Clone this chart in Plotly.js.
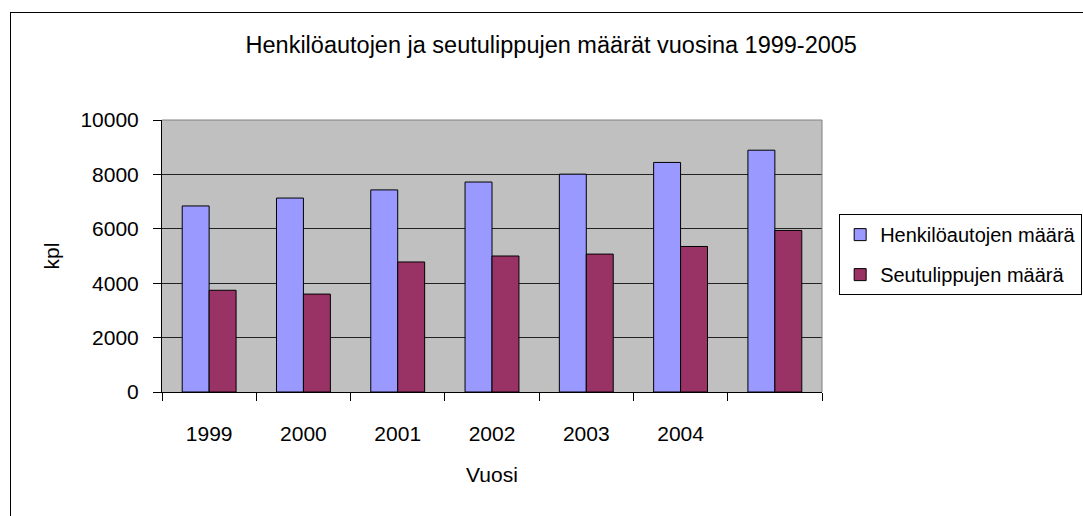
<!DOCTYPE html>
<html>
<head>
<meta charset="utf-8">
<script src="https://cdn.plot.ly/plotly-3.0.1.min.js"></script>
<style>
  html, body { margin: 0; padding: 0; background: #fff; }
  #wrap { position: relative; width: 1083px; height: 516px; overflow: hidden; }
  #chart { width: 1083px; height: 516px; }
  #frame { position: absolute; left: 10px; top: 12px; width: 1200px; height: 600px;
           border: 1px solid #000; pointer-events: none; box-sizing: border-box; }
</style>
</head>
<body>
<div id="wrap">
  <div id="chart"></div>
  <div id="frame"></div>
</div>
<script>
var years = ['1999', '2000', '2001', '2002', '2003', '2004', '2005'];
var yearLabels = ['1999', '2000', '2001', '2002', '2003', '2004', ''];
var henkiloautot = [6840, 7130, 7430, 7720, 8010, 8440, 8890];
var seutuliput = [3740, 3600, 4780, 5000, 5070, 5350, 5940];
var yTicks = [0, 2000, 4000, 6000, 8000, 10000];
var yTickLabels = ['0', '2000', '4000', '6000', '8000', '10000'];

var FONT = '"Liberation Sans", Arial, sans-serif';

var traces = [
  {
    type: 'bar', name: 'Henkilöautojen määrä', x: years, y: henkiloautot,
    marker: { color: '#9999FF', line: { color: '#000000', width: 1 } },
    legendgroup: 'a'
  },
  {
    type: 'bar', name: 'Seutulippujen määrä', x: years, y: seutuliput,
    marker: { color: '#993366', line: { color: '#000000', width: 1 } },
    legendgroup: 'b'
  }
];

var layout = {
  width: 1083, height: 516,
  margin: { l: 162, r: 261, t: 120, b: 124, pad: 0, autoexpand: false },
  paper_bgcolor: '#ffffff',
  plot_bgcolor: '#C0C0C0',
  font: { family: FONT, size: 21, color: '#000000' },
  barmode: 'group',
  bargap: 0.4286,
  bargroupgap: 0,
  title: {
    text: 'Henkilöautojen ja seutulippujen määrät vuosina 1999-2005',
    font: { family: FONT, size: 23.5, color: '#000' },
    xref: 'container', x: 0.509, xanchor: 'center',
    yref: 'container', y: 0.913, yanchor: 'middle'
  },
  xaxis: {
    type: 'category', automargin: false,
    tickmode: 'array', tickvals: years, ticktext: yearLabels,
    tickson: 'boundaries',
    ticks: 'outside', ticklen: 8, tickcolor: '#000', tickwidth: 1,
    ticklabelstandoff: 23,
    showline: true, linecolor: '#000', linewidth: 1,
    showgrid: false, zeroline: false,
    tickfont: { family: FONT, size: 21 },
    title: { text: 'Vuosi', font: { family: FONT, size: 21 }, standoff: 23 }
  },
  yaxis: {
    range: [0, 10000], automargin: false,
    tickmode: 'array', tickvals: yTicks, ticktext: yTickLabels,
    ticks: 'outside', ticklen: 8, tickcolor: '#000', tickwidth: 1,
    ticklabelstandoff: 10,
    showline: true, linecolor: '#000', linewidth: 1,
    showgrid: true, gridcolor: '#222222', gridwidth: 1,
    zeroline: false,
    tickfont: { family: FONT, size: 21 },
    title: { text: 'kpl', font: { family: FONT, size: 21 }, standoff: 15 }
  },
  shapes: [
    { type: 'line', xref: 'paper', yref: 'paper', x0: 0, x1: 1, y0: 1, y1: 1,
      line: { color: '#808080', width: 1 }, layer: 'above' },
    { type: 'line', xref: 'paper', yref: 'paper', x0: 1, x1: 1, y0: 0, y1: 1,
      line: { color: '#808080', width: 1 }, layer: 'above' }
  ],
  showlegend: true,
  legend: {
    x: 1.026, xanchor: 'left', y: 0.654, yanchor: 'top',
    bordercolor: '#000', borderwidth: 1, bgcolor: '#ffffff',
    font: { family: FONT, size: 20 },
    traceorder: 'grouped', tracegroupgap: 11
  }
};

Plotly.newPlot('chart', traces, layout, { staticPlot: true, displayModeBar: false });
</script>
</body>
</html>
